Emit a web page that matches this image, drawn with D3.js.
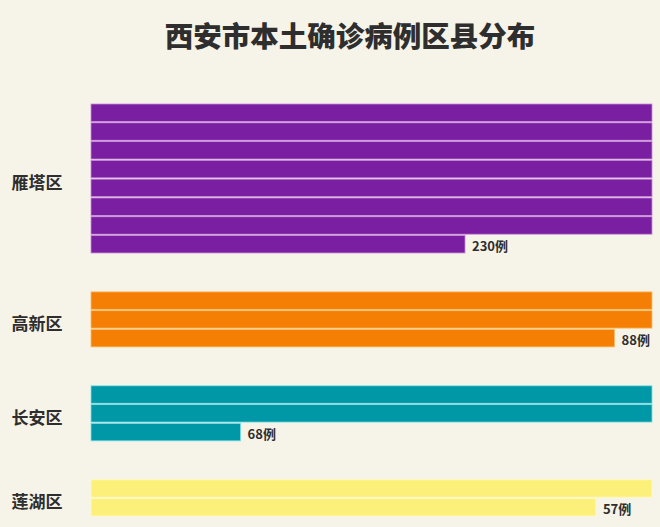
<!DOCTYPE html>
<html>
<head>
<meta charset="utf-8">
<script src="https://cdn.jsdelivr.net/npm/d3@7"></script>
<style>
  html, body { margin: 0; padding: 0; background: #f6f3e8; }
  svg { display: block; font-family: "Noto Sans CJK SC", "Noto Sans", sans-serif; }
</style>
</head>
<body>
<div class="main-chart"></div>
<script>
// data
const districts = ["雁塔区", "高新区", "长安区", "莲湖区"];
const cases = [230, 88, 68, 57];
const colors = ["#7b1fa2", "#f57f05", "#0097a6", "#fdf07a"];
const lineColors = ["#c98cdc", "#fbbf6a", "#80dfe6", "#fffbc4"];
const perRow = 30;

const width = 660, height = 527;
const svg = d3.select(".main-chart").append("svg")
    .attr("width", width)
    .attr("height", height);

svg.append("text")
    .attr("x", 350)
    .attr("y", 47)
    .attr("text-anchor", "middle")
    .attr("font-size", 28.5)
    .attr("font-weight", 900)
    .attr("fill", "#2e2e2e")
    .text("西安市本土确诊病例区县分布");

// each district takes ceil(n/30) rows, with two empty rows in between
let rowIndex = 0;
const groups = districts.map((name, i) => {
    const nRows = Math.ceil(cases[i] / perRow);
    const rows = d3.range(nRows).map(r => ({
        slot: rowIndex + r,
        value: Math.min(perRow, cases[i] - r * perRow)
    }));
    const g = { name, value: cases[i], color: colors[i], line: lineColors[i], rows };
    rowIndex += nRows + 2;
    return g;
});
const totalSlots = rowIndex - 2;

const x = d3.scaleLinear().domain([0, perRow]).range([91, 652]);
const y = d3.scaleBand().domain(d3.range(totalSlots)).range([104, 516]).paddingInner(0.07);

const gSel = svg.selectAll("g.district")
    .data(groups)
    .join("g")
    .attr("class", "district");

gSel.selectAll("rect")
    .data(d => d.rows.map(r => ({ ...r, color: d.color, line: d.line })))
    .join("rect")
    .attr("x", x(0))
    .attr("y", d => y(d.slot))
    .attr("width", d => x(d.value) - x(0))
    .attr("height", y.bandwidth())
    .attr("fill", d => d.color)
    .attr("stroke", d => d.line)
    .attr("stroke-width", 0.8);

gSel.append("text")
    .attr("x", 37)
    .attr("y", d => (y(d.rows[0].slot) + y(d.rows[d.rows.length - 1].slot) + y.bandwidth()) / 2 + 3)
    .attr("text-anchor", "middle")
    .attr("dominant-baseline", "central")
    .attr("font-size", 17)
    .attr("font-weight", 700)
    .attr("fill", "#2e2e2e")
    .text(d => d.name);

gSel.append("text")
    .attr("x", d => x(d.rows[d.rows.length - 1].value) + 7)
    .attr("y", d => y(d.rows[d.rows.length - 1].slot) + y.bandwidth() / 2 + 1)
    .attr("dominant-baseline", "central")
    .attr("font-size", 13)
    .attr("font-weight", 700)
    .attr("fill", "#2e2e2e")
    .text(d => d.value + "例");
</script>
</body>
</html>
